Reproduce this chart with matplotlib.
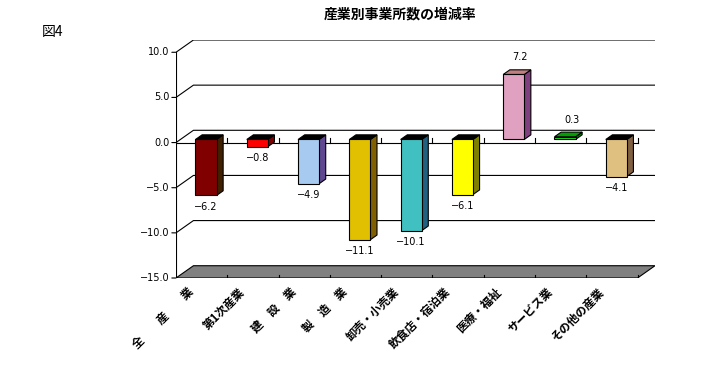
import matplotlib
matplotlib.use('Agg')
import matplotlib.pyplot as plt
from matplotlib.patches import Polygon

plt.rcParams['font.family'] = ['Noto Sans CJK JP', 'DejaVu Sans']

title = '産業別事業所数の増減率'
categories = ['全　　産　　業', '第1次産業', '建　設　業', '製　造　業', '卸売・小売業',
              '飲食店・宿泊業', '医療・福祉', 'サービス業', 'その他の産業']
values = [-6.2, -0.8, -4.9, -11.1, -10.1, -6.1, 7.2, 0.3, -4.1]
yticks = [-15, -10, -5, 0, 5, 10]

front_colors = ['#800000', '#ff0000', '#a6caf0', '#e0c000', '#40c0c0',
                '#ffff00', '#e0a0c0', '#20e020', '#e0c080']
side_colors = ['#402000', '#800000', '#604890', '#806000', '#206080',
               '#808000', '#804080', '#008000', '#806040']
top_colors = ['#000000', '#000000', '#000000', '#000000', '#000000',
              '#000000', '#c08080', '#00a000', '#000000']

# depth of the fake 3d box (x in category units, y in value units)
DX = 0.34
DY = 1.36
D0, D1 = 0.25, 0.63   # bar front / back depth
W = 0.41              # bar width
LW = 0.8
n = len(categories)
ymin, ymax = yticks[0], yticks[-1]


def P(x, y, d):
    return (x + d * DX, y + d * DY)


fig = plt.figure(figsize=(7.1, 3.8), dpi=100)
ax = fig.add_axes([176 / 710, 102 / 380, 479 / 710, 238 / 380])
ax.set_xlim(0, n + DX)
ax.set_ylim(ymin, ymax + DY)
ax.axis('off')

# floor
floor = [P(0, ymin, 0), P(n, ymin, 0), P(n, ymin, 1), P(0, ymin, 1)]
ax.add_patch(Polygon(floor, closed=True, fc='#808080', ec='black', lw=LW, zorder=1))
for k in range(1, n + 1):
    ax.plot([k, k], [ymin, ymin + 0.35], color='black', lw=LW, zorder=2)

# grid lines (left wall diagonal + back line)
for v in yticks[1:]:
    pts = [P(0, v, 0), P(0, v, 1), P(n, v, 1)]
    ax.plot([p[0] for p in pts], [p[1] for p in pts], color='black', lw=LW, zorder=2)

# left axis with ticks and labels
ax.plot([0, 0], [ymin, ymax], color='black', lw=LW, zorder=2)
for v in yticks:
    ax.annotate('', xy=(0, v), xytext=(-3, 0), textcoords='offset points',
                arrowprops=dict(arrowstyle='-', lw=LW, color='black',
                                shrinkA=0, shrinkB=0), annotation_clip=False)
    ax.annotate(f'{v:.1f}'.replace('-', '−'), xy=(0, v), xytext=(-4.5, 0),
                textcoords='offset points', ha='right', va='center',
                fontsize=7, family='DejaVu Sans', annotation_clip=False)

# front zero line
ax.plot([0, n], [0, 0], color='black', lw=LW, zorder=3)
for k in range(1, n + 1):
    ax.plot([k, k], [0, 0.55], color='black', lw=LW, zorder=3)

# bars
for i, v in enumerate(values):
    x0 = i + 0.5 - W / 2
    x1 = x0 + W
    top = max(v, 0)
    front = [P(x0, 0, D0), P(x1, 0, D0), P(x1, v, D0), P(x0, v, D0)]
    side = [P(x1, top, D0), P(x1, top, D1), P(x1, min(v, 0), D1), P(x1, min(v, 0), D0)]
    lid = [P(x0, top, D0), P(x1, top, D0), P(x1, top, D1), P(x0, top, D1)]
    ax.add_patch(Polygon(side, closed=True, fc=side_colors[i], ec='black', lw=LW, zorder=4))
    ax.add_patch(Polygon(lid, closed=True, fc=top_colors[i], ec='black', lw=LW, zorder=4))
    ax.add_patch(Polygon(front, closed=True, fc=front_colors[i], ec='black', lw=LW, zorder=5))

    cx = i + 0.5
    if v >= 0:
        ax.annotate(f'{v:.1f}', xy=P(cx, v, D1), xytext=(0, 9), textcoords='offset points',
                    ha='center', va='center', fontsize=7, family='DejaVu Sans')
    else:
        ax.annotate(f'{v:.1f}'.replace('-', '−'), xy=P(cx, v, D0), xytext=(0, -8),
                    textcoords='offset points', ha='center', va='center',
                    fontsize=7, family='DejaVu Sans')

# category labels
for i, c in enumerate(categories):
    ax.annotate(c, xy=(i + 0.5, ymin), xytext=(-7.2, -8.6), textcoords='offset points',
                rotation=45, rotation_mode='anchor', ha='right', va='center',
                fontsize=8.3, fontweight='bold', annotation_clip=False)

fig.text(400 / 710, 1 - 15 / 380, title, ha='center', va='center',
         fontsize=10, fontweight='bold')
fig.text(42 / 710, 1 - 32 / 380, '図4', ha='left', va='center', fontsize=10)

fig.savefig('out.png', dpi=100)
